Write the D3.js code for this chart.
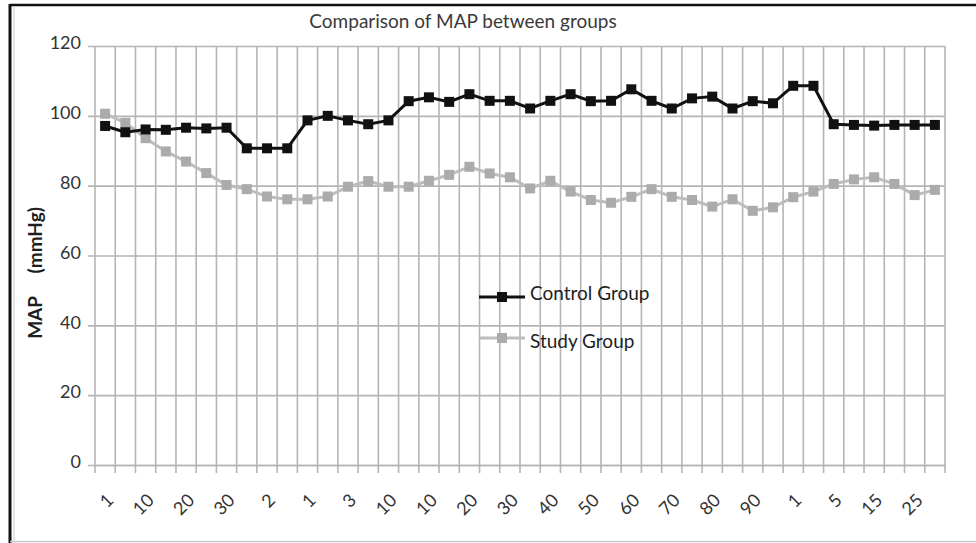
<!DOCTYPE html>
<html>
<head>
<meta charset="utf-8">
<script src="https://cdnjs.cloudflare.com/ajax/libs/d3/7.8.5/d3.min.js"></script>
<style>
body { margin: 0; background: #fff; }
text { font-family: Lato, "Open Sans", sans-serif; fill: #333; }
</style>
</head>
<body>
<script>
// Data // ----------------------------------------------------------------------
var control = [97.1, 95.3, 96.1, 96.0, 96.6, 96.4, 96.6, 90.7, 90.7, 90.7,
               98.7, 100.0, 98.7, 97.6, 98.7, 104.2, 105.3, 104.0, 106.2, 104.3,
               104.3, 102.1, 104.3, 106.2, 104.2, 104.3, 107.6, 104.3, 102.1, 105.0,
               105.5, 102.1, 104.2, 103.6, 108.6, 108.6, 97.6, 97.4, 97.2, 97.4,
               97.4, 97.4];
var study = [100.6, 98.0, 93.6, 89.8, 86.9, 83.6, 80.2, 79.0, 76.9, 76.1,
             76.1, 76.9, 79.7, 81.3, 79.7, 79.7, 81.4, 83.1, 85.4, 83.5,
             82.4, 79.2, 81.4, 78.3, 75.9, 75.1, 76.8, 79.0, 76.8, 75.9,
             74.0, 76.1, 72.8, 73.8, 76.7, 78.3, 80.5, 81.8, 82.4, 80.5,
             77.3, 78.8];
// one label every second category
var xLabels = ["1", "10", "20", "30", "2", "1", "3", "10", "10", "20", "30",
               "40", "50", "60", "70", "80", "90", "1", "5", "15", "25"];
var yTicks = [0, 20, 40, 60, 80, 100, 120];
var seriesNames = ["Control Group", "Study Group"];

// Key Functions and Variables // ----------------------------------------------
var margin = {top: 46, right: 31, bottom: 78, left: 95},
    width = 976 - margin.left - margin.right,
    height = 543 - margin.top - margin.bottom;

var x = d3.scaleBand().domain(d3.range(control.length)).range([0, width]).paddingInner(0),
    y = d3.scaleLinear().domain([0, 120]).range([height, 0]);

function cx(i) { return x(i) + x.bandwidth() / 2; }

var valueLine = d3.line()
                  .x(function(d, i){ return cx(i); })
                  .y(function(d){ return y(d); });

var root = d3.select("body").append("svg")
             .attr("width", width + margin.left + margin.right)
             .attr("height", height + margin.top + margin.bottom);

// frame of the scanned figure
root.append("line").attr("x1", 10).attr("x2", 976).attr("y1", 5).attr("y2", 5)
    .attr("stroke", "#111").attr("stroke-width", 2.5);
root.append("line").attr("x1", 10).attr("x2", 10).attr("y1", 4).attr("y2", 543)
    .attr("stroke", "#111").attr("stroke-width", 3);
root.append("line").attr("x1", 14).attr("x2", 14).attr("y1", 6).attr("y2", 543)
    .attr("stroke", "#ccc").attr("stroke-width", 1);
root.append("line").attr("x1", 10).attr("x2", 976).attr("y1", 541.5).attr("y2", 541.5)
    .attr("stroke", "#ccc").attr("stroke-width", 1.5);

// title
root.append("text")
    .attr("x", 463).attr("y", 28)
    .attr("text-anchor", "middle")
    .style("font-size", "19px")
    .style("fill", "#3a3a3a")
    .text("Comparison of MAP between groups");

var svg = root.append("g")
              .attr("transform", "translate(" + margin.left + "," + margin.top + ")");

// vertical gridlines on the category boundaries (running down as ticks)
var bounds = x.domain().map(function(i){ return x(i); }).concat([width]);
svg.append("g").attr("class", "grid")
   .selectAll("line").data(bounds).enter().append("line")
   .attr("x1", function(d){ return d; }).attr("x2", function(d){ return d; })
   .attr("y1", 0).attr("y2", height + 8)
   .attr("stroke", "#b5b5b5").attr("stroke-width", 1.6);

// y axis with gridlines
svg.append("g")
   .attr("class", "y-axis")
   .call(d3.axisLeft(y)
           .tickValues(yTicks)
           .tickSize(-width)
           .tickSizeOuter(0)
           .tickPadding(14)
        )
   .call(function(g){
       g.select(".domain").remove();
       g.selectAll(".tick line").attr("stroke", "#b5b5b5").attr("stroke-width", 1.6)
        .attr("x1", -7);
       g.selectAll(".tick text").attr("fill", "#2a2a2a").attr("dy", "0.15em")
        .style("font-size", "18px").style("font-family", "Lato, sans-serif");
   });

// x axis
svg.append("g")
   .attr("class", "x-axis")
   .attr("transform", "translate(0," + height + ")")
   .call(d3.axisBottom(x)
           .tickSize(0)
           .tickFormat(function(i){ return i % 2 === 0 ? xLabels[i / 2] : ""; })
        )
   .call(function(g){
       g.select(".domain").attr("stroke", "#b5b5b5").attr("stroke-width", 1.6);
       g.selectAll(".tick text")
        .attr("fill", "#1e1e1e")
        .attr("text-anchor", "end")
        .attr("y", 0).attr("dy", "0.35em")
        .attr("transform", "translate(5,32) rotate(-45)")
        .style("font-size", "18px").style("font-family", "Lato, sans-serif");
   });

// y axis title
root.append("text")
    .attr("transform", "translate(42," + (margin.top + y(55)) + ") rotate(-90)")
    .attr("text-anchor", "middle")
    .style("font-size", "19px").style("font-weight", "bold")
    .style("fill", "#1e1e1e")
    .style("white-space", "pre")
    .text("MAP     (mmHg)");

// series
var series = [
    {name: seriesNames[1], values: study, line: "#bdbdbd", mark: "#ababab"},
    {name: seriesNames[0], values: control, line: "#111", mark: "#111"}
];

series.forEach(function(s) {
    svg.append("path")
       .datum(s.values)
       .attr("fill", "none")
       .attr("stroke", s.line)
       .attr("stroke-width", 3)
       .attr("d", valueLine);
    svg.append("g").selectAll("rect").data(s.values).enter().append("rect")
       .attr("x", function(d, i){ return cx(i) - 5; })
       .attr("y", function(d){ return y(d) - 5; })
       .attr("width", 10).attr("height", 10)
       .attr("fill", s.mark);
});

// legend (text sits a little above the first key line and below the second)
var legend = root.append("g").attr("transform", "translate(479,297)");
[series[1], series[0]].forEach(function(s, k) {
    var row = legend.append("g").attr("transform", "translate(0," + (k * 41) + ")");
    row.append("line").attr("x1", 0).attr("x2", 46).attr("y1", 0).attr("y2", 0)
       .attr("stroke", s.line).attr("stroke-width", 3);
    row.append("rect").attr("x", 18).attr("y", -5).attr("width", 10).attr("height", 10)
       .attr("fill", s.mark);
    row.append("text").attr("x", 51).attr("y", k === 0 ? -4 : 3).attr("dy", "0.35em")
       .style("font-size", "19px")
       .style("fill", "#1e1e1e")
       .text(s.name);
});
</script>
</body>
</html>
